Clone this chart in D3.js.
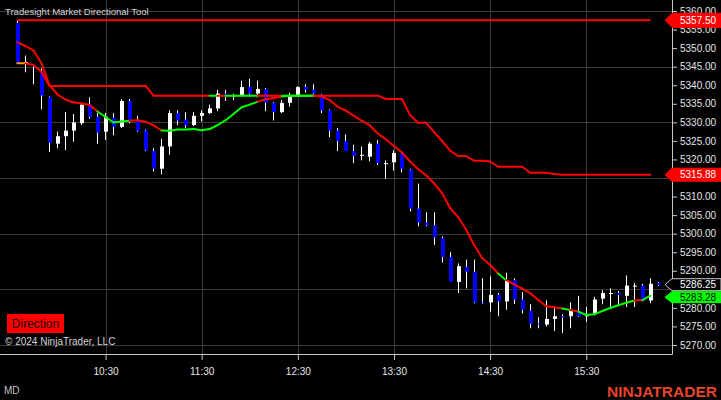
<!DOCTYPE html>
<html><head><meta charset="utf-8">
<script src="https://cdn.jsdelivr.net/npm/d3@7"></script>
<style>html,body{margin:0;padding:0;background:#000;overflow:hidden}svg{display:block}</style>
</head><body>
<svg id="c" width="721" height="400"></svg>
<script>
// ---------- DATA ----------
const firstBar = "09:35";
const barMinutes = 5;
const opens = [5356.75,5346,5345.25,5343.5,5336.75,5324.25,5326.25,5327.75,5329.75,5334.75,
5331.5,5327.5,5331.25,5328.75,5335.75,5330.25,5327.75,5322.25,5317.5,5323.5,
5332.5,5330.75,5329.25,5331.75,5332.5,5333.75,5337.75,5337,5337.25,5339.5,
5337.75,5339,5335.25,5332.75,5335.25,5337,5339.5,5338.75,5337.5,5333.25,
5327.75,5325,5322.25,5321,5320.75,5324.25,5319,5319.25,5321.5,5317.25,
5306.75,5303,5302.25,5298.75,5293.75,5287,5291,5289.75,5281.5,5281.5,
5283.5,5281.75,5287.5,5282.25,5279.25,5275.75,5275.5,5277,5277.75,5277.75,
5279.25,5277.75,5278.5,5282.5,5284,5284,5283.25,5286,5286,5282,
5286.75];
const highs = [5357.5,5348,5345.5,5344.5,5337,5327.5,5332.75,5332.25,5335.25,5336.75,
5332.5,5332.5,5332.5,5336.25,5336.25,5331.75,5328,5323,5325.5,5333.25,
5333.25,5332.75,5332.75,5333.25,5334.75,5338.75,5338.75,5337.75,5341.25,5341.75,
5341.25,5339.25,5335.5,5336,5338,5339.75,5340.25,5340.25,5337.75,5333.5,
5328.5,5326.75,5324,5323.5,5324.75,5325.25,5319.75,5322.5,5322,5317.5,
5313.5,5305.75,5305.75,5299.25,5295,5292,5293,5293,5288,5288.5,
5284,5289.5,5288,5284.25,5281,5277.5,5282,5280.25,5278.25,5281.5,
5283.25,5280.25,5283,5284.75,5285.25,5284.5,5288.75,5286.75,5286.5,5288,
5287];
const lows = [5345.75,5343.5,5340.25,5333.5,5322,5323,5322.5,5324.75,5329.25,5331,
5324.25,5325.25,5326.5,5328.5,5329.75,5327.5,5322.25,5316.75,5316,5321.25,
5329.25,5328.5,5329,5330.25,5332.25,5333,5335.75,5336,5337,5337.25,
5336.75,5333,5330.5,5332.5,5334.25,5337,5338,5337,5332.5,5326,
5322.25,5322.25,5319,5319.75,5319.5,5318.5,5314.75,5317,5316.5,5306,
5302,5302,5297,5292.25,5287,5284,5285.25,5281.25,5281,5279,
5277.75,5279.5,5281,5278.5,5274.5,5274.5,5275,5273.75,5273.25,5274.5,
5277.5,5276.25,5278,5281,5280,5280.5,5280.25,5280.25,5281.75,5281.25,
5286];
const closes = [5346,5346.25,5345,5337.25,5324.5,5326.25,5327.75,5330,5334.75,5331.5,
5327.25,5331.5,5328.75,5335.75,5330.5,5327.75,5322.5,5317.5,5323.5,5332.5,
5330.5,5329.25,5331.75,5332.5,5333.75,5337.75,5337,5337.25,5339.5,5337.75,
5339,5335.25,5332.75,5335.25,5337,5339.5,5338.75,5337.75,5333.25,5327.75,
5325,5322.25,5321,5321.25,5324.25,5319,5319,5321.75,5317.5,5306.75,
5303,5302.25,5299,5293.75,5287,5291.25,5289.75,5281.5,5281.25,5283.5,
5281.75,5287.5,5282.25,5279.5,5275.75,5275.5,5277,5277.75,5277.5,5279.25,
5277.75,5278,5282.25,5284,5284,5283.5,5286,5286,5282,5286.5,
5286.25];
// stepped directional line (ends 5315.88)
const slowLine = [5345.91,5345.91,5345.45,5343.64,5339.79,5339.79,5339.79,5339.79,5339.79,5339.79,
5339.79,5339.79,5339.79,5339.79,5339.79,5339.79,5339.79,5337.18,5337.18,5337.18,
5337.18,5337.18,5337.18,5337.18,5337.18,5337.18,5337.18,5337.18,5337.18,5337.18,
5337.18,5337.18,5337.18,5337.18,5337.18,5337.18,5337.18,5337.18,5337.18,5337.18,
5337.18,5337.18,5337.18,5337.18,5337.18,5337.18,5336.29,5336.29,5336.29,5331.98,
5329.90,5329.90,5327.39,5324.97,5322.36,5320.93,5320.93,5319.66,5319.66,5319.44,
5318.04,5318.04,5318.04,5318.04,5316.43,5316.43,5316.43,5316.10,5315.88,5315.88,
5315.88,5315.88,5315.88,5315.88,5315.88,5315.88,5315.88,5315.88,5315.88,5315.88];
// direction of each segment ending at that bar: 1 up, -1 down, 0 neutral
const slowDir = [0,0,-1,-1,-1,-1,-1,-1,-1,-1,
-1,-1,-1,-1,-1,-1,-1,-1,-1,-1,
-1,-1,-1,-1,-1,1,-1,1,1,1,
1,-1,-1,-1,1,1,1,1,-1,-1,
-1,-1,-1,-1,-1,-1,-1,-1,-1,-1,
-1,-1,-1,-1,-1,-1,-1,-1,-1,-1,
-1,-1,-1,-1,-1,-1,-1,-1,-1,-1,
-1,-1,-1,-1,-1,-1,-1,-1,-1,-1];
// smooth directional line (ends 5283.28)
const fastLine = [5351.57,5350.57,5349.36,5345.99,5340.06,5337.50,5336.15,5335.34,5335.13,5334.67,
5332.92,5331.44,5329.95,5330.22,5330.44,5330.55,5330.17,5329.20,5327.80,5327.74,
5328.07,5328.07,5328.20,5327.85,5328.20,5329.28,5330.57,5332.30,5334.08,5334.78,
5335.59,5336.21,5336.56,5336.96,5337.18,5337.18,5337.18,5337.18,5336.96,5335.94,
5334.18,5333.13,5331.76,5330.36,5329.15,5326.91,5325.40,5323.62,5321.87,5319.44,
5317.42,5315.75,5313.57,5310.96,5306.91,5304.49,5301.12,5296.94,5293.44,5291.55,
5289.26,5287.46,5286.35,5285.22,5284.01,5282.12,5280.45,5280.16,5279.83,5279.43,
5279.00,5278.08,5278.27,5279.16,5279.97,5280.72,5281.37,5281.99,5282.12,5283.28];
const fastDir = [-1,-1,-1,-1,-1,-1,-1,-1,-1,-1,
-1,1,1,1,1,-1,-1,-1,-1,1,
1,1,1,1,1,1,1,1,1,1,
1,-1,-1,-1,1,1,1,1,-1,-1,
-1,-1,-1,-1,-1,-1,-1,-1,-1,-1,
-1,-1,-1,-1,-1,-1,-1,-1,-1,-1,
-1,1,-1,-1,-1,-1,-1,-1,-1,1,
-1,1,1,1,1,1,1,1,-1,1];
const sessionHigh = 5357.50;
const lastPrice = 5286.25;
const priceTicks = [5270,5275,5280,5285,5290,5295,5300,5305,5310,5315,5320,5325,5330,5335,5340,5345,5350,5355,5360];
const gridPrices = [5270,5285,5300,5315,5330,5345,5360];
const timeTickLabels = ["10:30","11:30","12:30","13:30","14:30","15:30"];

// ---------- CHART ----------
const FONT = "'Liberation Sans', Arial, sans-serif";
const svg = d3.select("#c");
svg.append("rect").attr("width",721).attr("height",400).attr("fill","#000");
const parseT = d3.timeParse("%H:%M");
const t0 = parseT(firstBar);
const barTimes = opens.map((_, i) => d3.timeMinute.offset(t0, i * barMinutes));
const tickTimes = timeTickLabels.map(parseT);

const axisX = 672, axisY = 354;
const x = d3.scaleTime().domain([barTimes[0], barTimes[barTimes.length - 1]]).range([17.4, 658.4]);
const y = d3.scaleLinear().domain([5270, 5360]).range([345, 11]);
const dirColor = d => d > 0 ? "#00ff00" : (d < 0 ? "#ff0000" : "#ff9900");

// grid
const grid = svg.append("g").attr("stroke", "#3c3c3c").attr("stroke-width", 1);
grid.selectAll("line.h").data(gridPrices).join("line").attr("class","h")
  .attr("x1", 0).attr("x2", axisX).attr("y1", d => Math.round(y(d)) + 0.5).attr("y2", d => Math.round(y(d)) + 0.5);
grid.selectAll("line.v").data(tickTimes).join("line").attr("class","v")
  .attr("x1", d => Math.round(x(d)) + 0.5).attr("x2", d => Math.round(x(d)) + 0.5).attr("y1", 0).attr("y2", axisY);

// title
svg.append("text").attr("x", 5).attr("y", 15).attr("fill", "#d4d4d4")
  .style("font", `9.5px ${FONT}`).text("Tradesight Market Directional Tool");

// candles
const idx = d3.range(opens.length);
const candles = svg.append("g");
candles.selectAll("line").data(idx).join("line")
  .attr("x1", i => Math.floor(x(barTimes[i])) + 0.5).attr("x2", i => Math.floor(x(barTimes[i])) + 0.5)
  .attr("y1", i => y(highs[i])).attr("y2", i => y(lows[i]))
  .attr("stroke", "#ffffff").attr("stroke-width", 1);
candles.selectAll("rect").data(idx).join("rect")
  .attr("x", i => Math.floor(x(barTimes[i])) - 1).attr("width", 4)
  .attr("y", i => y(Math.max(opens[i], closes[i])))
  .attr("height", i => Math.max(1, Math.abs(y(opens[i]) - y(closes[i]))))
  .attr("fill", i => closes[i] >= opens[i] ? "#ffffff" : "#0000ff");

// indicator lines
function segLine(vals, dirs) {
  const g = svg.append("g").attr("stroke-width", 2).attr("stroke-linecap", "round").attr("fill", "none");
  g.selectAll("line").data(d3.range(1, vals.length)).join("line")
    .attr("x1", i => x(barTimes[i - 1])).attr("y1", i => y(vals[i - 1]))
    .attr("x2", i => x(barTimes[i])).attr("y2", i => y(vals[i]))
    .attr("stroke", i => dirColor(dirs[i]));
}
svg.append("line").attr("x1", x(barTimes[0])).attr("x2", x(barTimes[fastLine.length - 1]))
  .attr("y1", y(sessionHigh)).attr("y2", y(sessionHigh)).attr("stroke", "#ff0000").attr("stroke-width", 2);
segLine(slowLine, slowDir);
segLine(fastLine, fastDir);

// price markers (layout first, so covered axis labels can be skipped)
const markers = [
  { v: sessionHigh, fill: "#ff0000", stroke: "#ff0000", text: "#ffffff", h: 7 },
  { v: slowLine[slowLine.length - 1], fill: "#ff0000", stroke: "#ff0000", text: "#ffffff", h: 6.5 },
  { v: lastPrice, fill: "#000000", stroke: "#c8c8c8", text: "#ffffff", h: 6 },
  { v: fastLine[fastLine.length - 1], fill: "#00ff00", stroke: "#00ff00", text: "#000000", h: 5.5 }
];
let prevBottom = -Infinity;
markers.forEach(m => {
  let cy = y(m.v);
  if (cy - m.h < prevBottom + 1) cy = prevBottom + 1 + m.h;
  prevBottom = cy + m.h;
  m.cy = cy;
});
const hidden = p => markers.some(m => Math.abs(y(p) - m.cy) < m.h + 1);

// axes
const yAxis = d3.axisRight(y).tickValues(priceTicks)
  .tickFormat(p => hidden(p) ? "" : d3.format(".2f")(p))
  .tickSize(5).tickPadding(3).tickSizeOuter(0);
const gy = svg.append("g").attr("transform", `translate(${axisX},0)`).call(yAxis);
gy.select(".domain").remove();
gy.selectAll("line").attr("stroke", "#c8c8c8");
gy.selectAll("text").attr("fill", "#e4e4e4").style("font", `10px ${FONT}`);

const xAxis = d3.axisBottom(x).tickValues(tickTimes).tickFormat(d3.timeFormat("%H:%M"))
  .tickSize(6).tickPadding(8).tickSizeOuter(0);
const gx = svg.append("g").attr("transform", `translate(0,${axisY})`).call(xAxis);
gx.select(".domain").remove();
gx.selectAll("line").attr("stroke", "#c8c8c8");
gx.selectAll("text").attr("fill", "#e4e4e4").style("font", `10px ${FONT}`);

svg.append("line").attr("x1", axisX + 0.5).attr("x2", axisX + 0.5).attr("y1", 0).attr("y2", axisY + 0.5)
  .attr("stroke", "#c8c8c8");
svg.append("line").attr("x1", 0).attr("x2", axisX + 0.5).attr("y1", axisY + 0.5).attr("y2", axisY + 0.5)
  .attr("stroke", "#c8c8c8");

const gm = svg.append("g");
markers.forEach(m => {
  const pts = [[665, m.cy], [672, m.cy - m.h], [721, m.cy - m.h], [721, m.cy + m.h], [672, m.cy + m.h]];
  gm.append("polygon").attr("points", pts.map(p => p.join(",")).join(" "))
    .attr("fill", m.fill).attr("stroke", m.stroke).attr("stroke-width", 1);
  gm.append("text").attr("x", 680).attr("y", m.cy).attr("dy", "0.35em").attr("fill", m.text)
    .style("font", `10px ${FONT}`).text(d3.format(".2f")(m.v));
});

// overlays
svg.append("rect").attr("x", 7).attr("y", 314).attr("width", 57).attr("height", 19).attr("fill", "#ff0000");
svg.append("text").attr("x", 35.5).attr("y", 323.5).attr("dy", "0.35em").attr("text-anchor", "middle")
  .attr("fill", "#1a0000").style("font", `12px ${FONT}`).text("Direction");
svg.append("text").attr("x", 5).attr("y", 345).attr("fill", "#d4d4d4")
  .style("font", `10px ${FONT}`).text("© 2024 NinjaTrader, LLC");
svg.append("text").attr("x", 4).attr("y", 394).attr("fill", "#c0c0c0")
  .style("font", `10px ${FONT}`).text("MD");
svg.append("text").attr("x", 607).attr("y", 397).attr("fill", "#e8442a")
  .style("font", `bold 15.5px ${FONT}`).text("NINJATRADER");
</script>
</body></html>
